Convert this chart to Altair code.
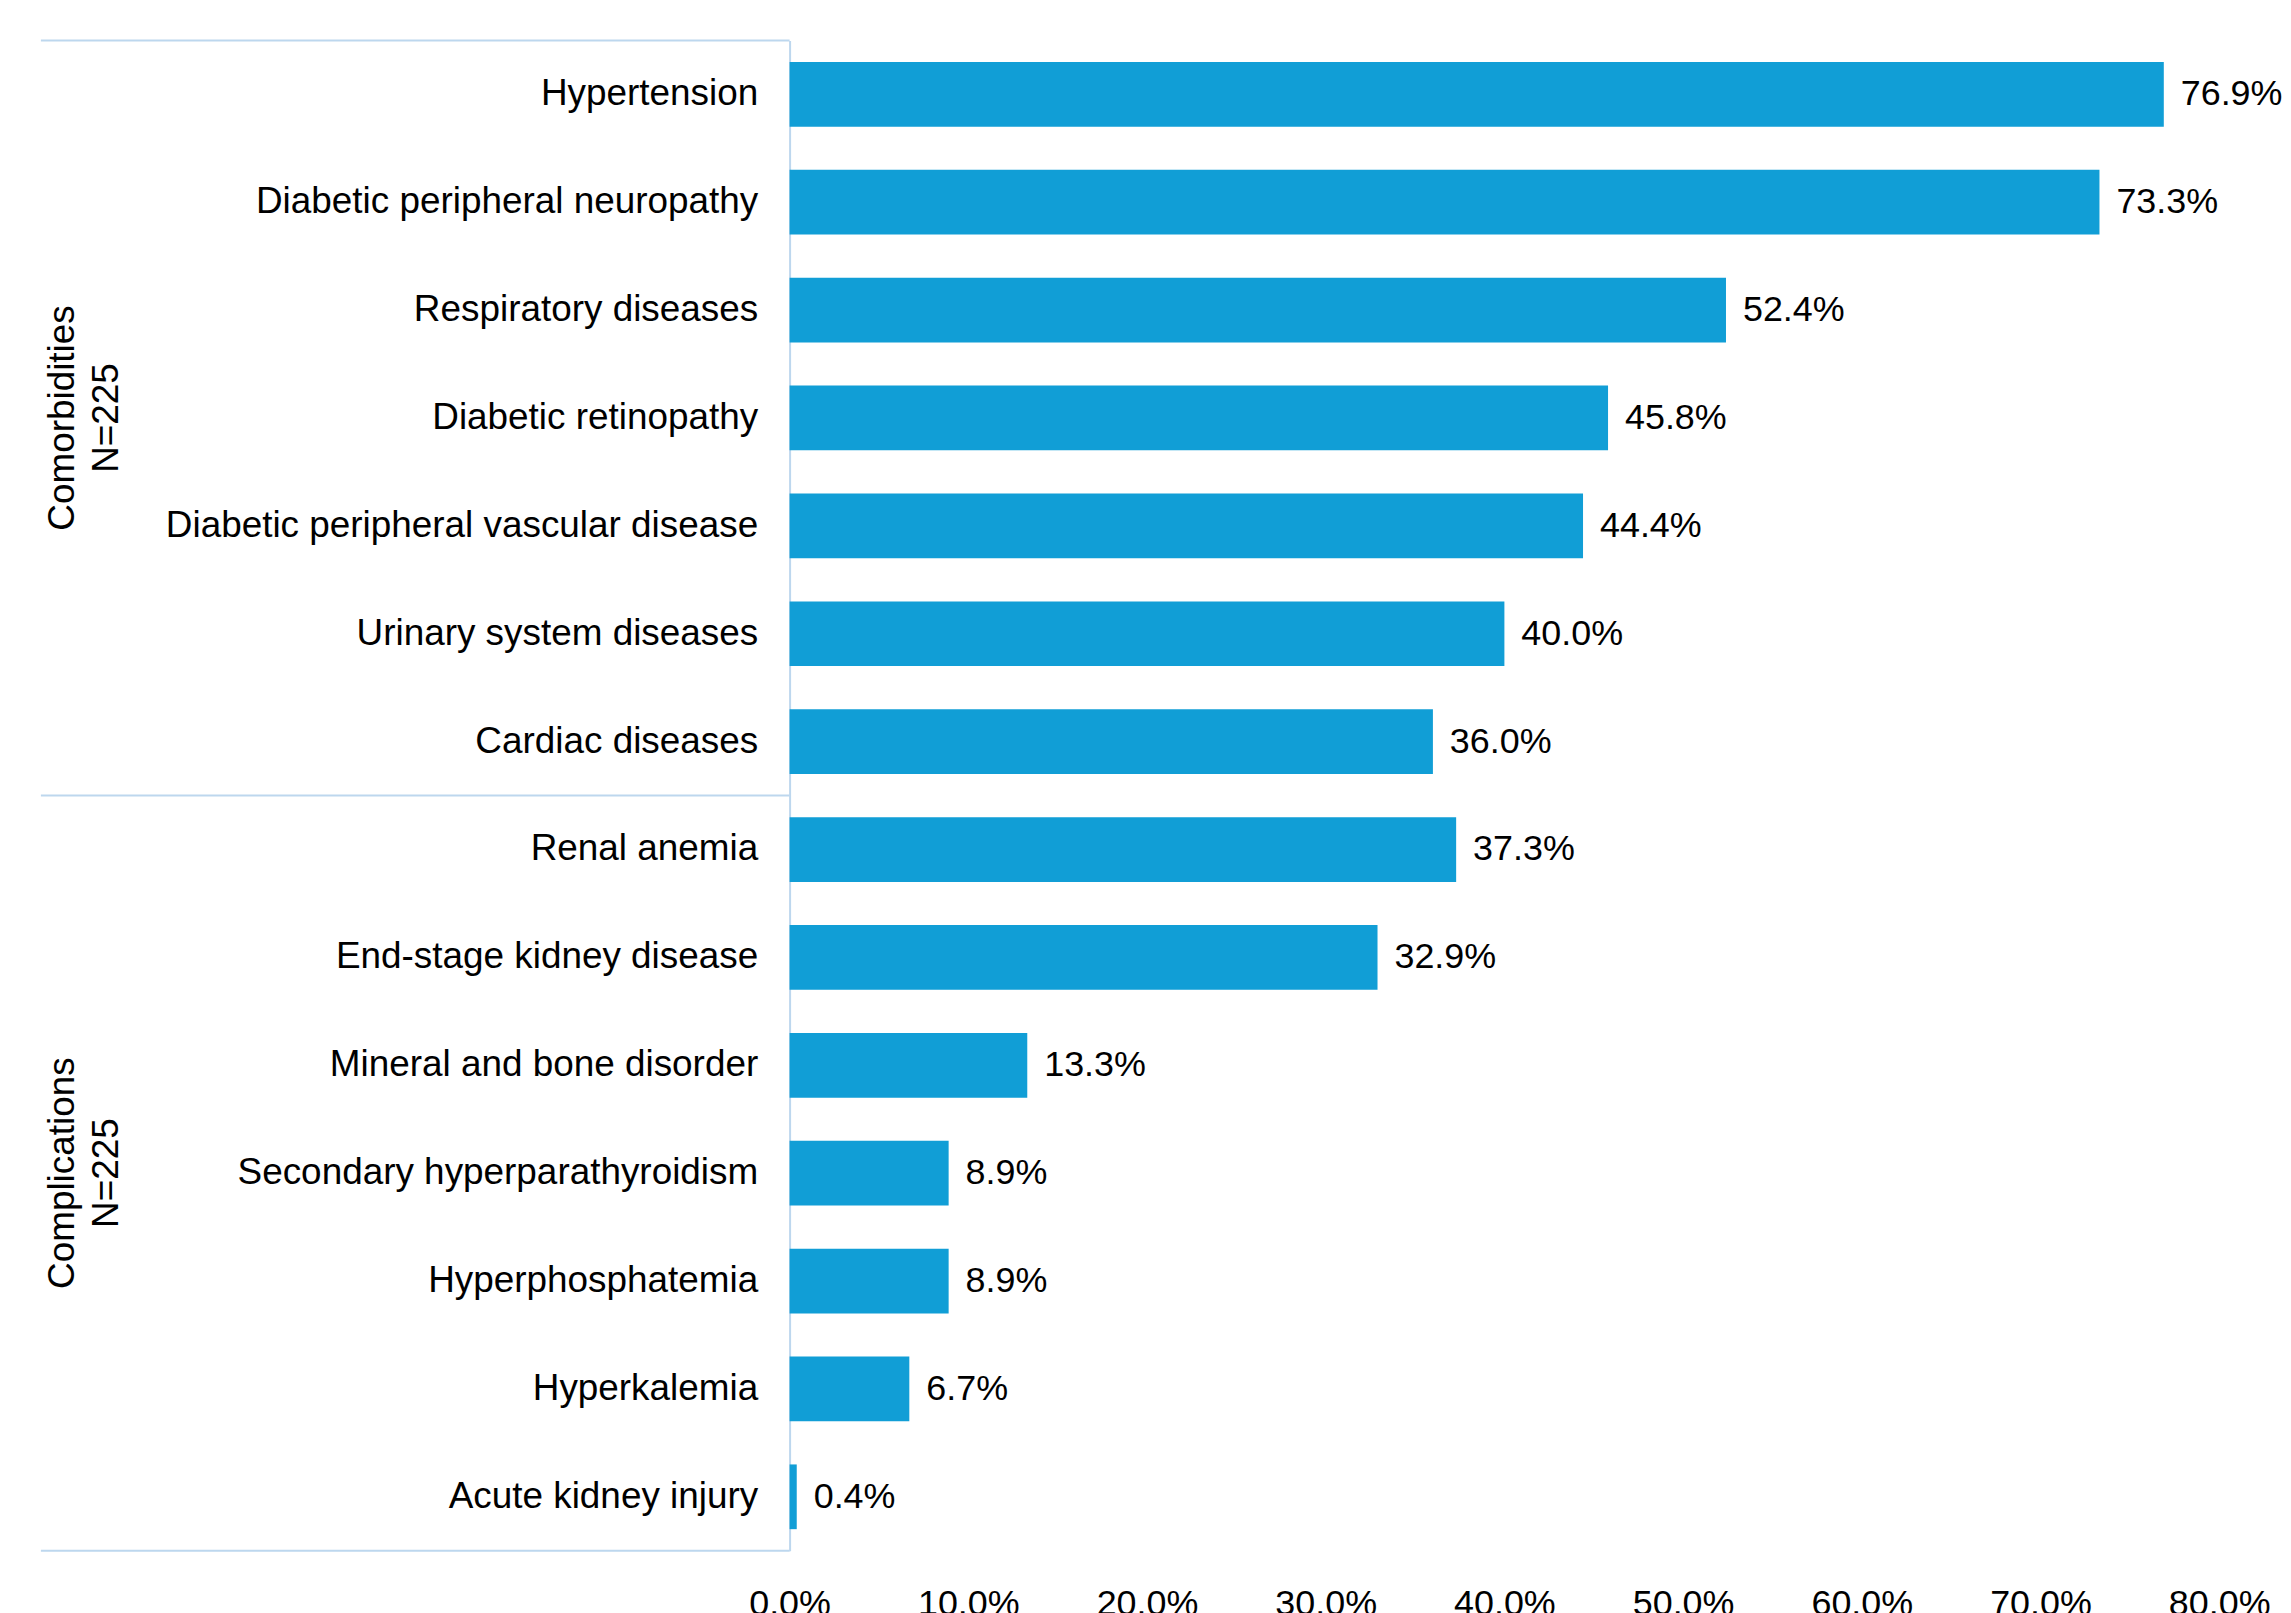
import altair as alt
import pandas as pd

categories = [
    "Hypertension",
    "Diabetic peripheral neuropathy",
    "Respiratory diseases",
    "Diabetic retinopathy",
    "Diabetic peripheral vascular disease",
    "Urinary system diseases",
    "Cardiac diseases",
    "Renal anemia",
    "End-stage kidney disease",
    "Mineral and bone disorder",
    "Secondary hyperparathyroidism",
    "Hyperphosphatemia",
    "Hyperkalemia",
    "Acute kidney injury",
]
values = [76.9, 73.3, 52.4, 45.8, 44.4, 40.0, 36.0, 37.3, 32.9, 13.3, 8.9, 8.9, 6.7, 0.4]

group_labels = ["Comorbidities\nN=225", "Complications\nN=225"]
group_centers = ["Diabetic retinopathy", "Secondary hyperparathyroidism"]
tick_values = [0, 10, 20, 30, 40, 50, 60, 70, 80]

FONT = "Liberation Sans"
BAR = "#119ED6"
LINE = "#BDD7EE"

df = pd.DataFrame({"cat": categories, "val": values})
df["label"] = [f"{v:.1f}%" for v in values]

yscale = alt.Scale(domain=categories, paddingInner=0, paddingOuter=0)
xscale = alt.Scale(domain=[0, 80], nice=False)

y_enc = alt.Y(
    "cat:N",
    scale=yscale,
    sort=categories,
    title=None,
    axis=alt.Axis(
        labelFontSize=37,
        labelFont=FONT,
        labelColor="#000000",
        labelPadding=32,
        labelLimit=1000,
        ticks=False,
        domainColor=LINE,
        domainWidth=2,
        grid=False,
    ),
)

bars = alt.Chart(df).mark_bar(color=BAR, height={"band": 0.6}).encode(
    x=alt.X(
        "val:Q",
        scale=xscale,
        title=None,
        axis=alt.Axis(
            values=tick_values,
            labelExpr="format(datum.value, '.1f') + '%'",
            labelFontSize=36,
            labelFont=FONT,
            labelColor="#000000",
            labelPadding=36,
            labelFlush=False,
            labelOverlap=False,
            ticks=False,
            domain=False,
            grid=False,
        ),
    ),
    y=y_enc,
)

texts = alt.Chart(df).mark_text(
    align="left", baseline="middle", dx=17, fontSize=36, font=FONT, color="#000000"
).encode(x=alt.X("val:Q", scale=xscale), y=alt.Y("cat:N", scale=yscale, sort=categories), text="label:N")

top_df = pd.DataFrame({"cat": ["Hypertension", "Renal anemia"]})
bot_df = pd.DataFrame({"cat": ["Acute kidney injury"]})

rules_top = alt.Chart(top_df).mark_rule(color=LINE, strokeWidth=2).encode(
    y=alt.Y("cat:N", scale=yscale, sort=categories, bandPosition=0),
    x=alt.value(-751),
    x2=alt.value(0),
)
rules_bot = alt.Chart(bot_df).mark_rule(color=LINE, strokeWidth=2).encode(
    y=alt.Y("cat:N", scale=yscale, sort=categories, bandPosition=1),
    x=alt.value(-751),
    x2=alt.value(0),
)

grp_df = pd.DataFrame({"cat": group_centers, "label": group_labels})
groups = alt.Chart(grp_df).mark_text(
    angle=270, align="center", baseline="middle", fontSize=37, font=FONT,
    color="#000000", lineBreak="\n", lineHeight=44,
).encode(
    y=alt.Y("cat:N", scale=yscale, sort=categories),
    x=alt.value(-729),
    text="label:N",
)

chart = alt.layer(bars, texts, rules_top, rules_bot, groups).properties(
    width=1434,
    height=1515,
    background="white",
    padding={"left": 32, "top": 29, "right": 0, "bottom": 5},
).configure_view(strokeWidth=0)

chart.save("out.html", embed_options={"renderer": "svg", "actions": False})
